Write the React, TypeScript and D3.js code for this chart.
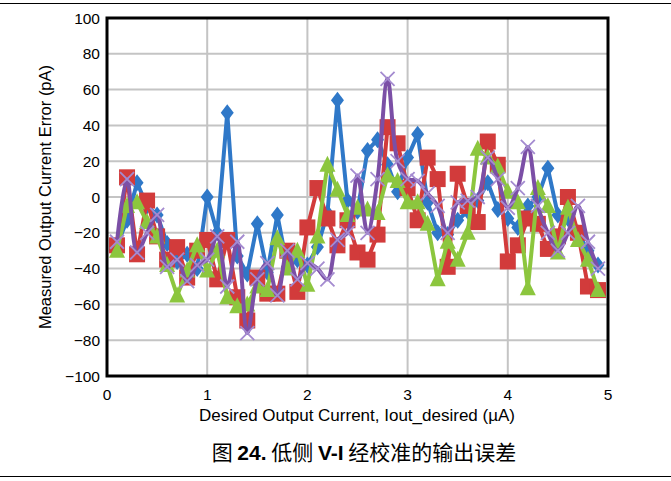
import React from "react";
import * as d3 from "d3";

const xs = [0.1,0.2,0.3,0.4,0.5,0.6,0.7,0.8,0.9,1.0,1.1,1.2,1.3,1.4,1.5,1.6,1.7,1.8,1.9,2.0,2.1,2.2,2.3,2.4,2.5,2.6,2.7,2.8,2.9,3.0,3.1,3.2,3.3,3.4,3.5,3.6,3.7,3.8,3.9,4.0,4.1,4.2,4.3,4.4,4.5,4.6,4.7,4.8,4.9];

const blue = [-27,-13,8,-5,-10,-26,-36,-32,-40,0,-20,47,-33,-43,-15,-42,-10,-39,-35,-38,-28,-9,54,-2,-8,26,32,18,3,22,35,-3,-20,-21,-13,-8,-2,8,-7,-12,-17,-5,0,16,-10,-12,-20,-30,-38];
const red = [-27,11,-32,-2,-22,-35,-28,-45,-30,-24,-46,-24,-56,-69,-45,-54,-54,-30,-53,-17,5,-12,-27,-13,-31,-35,-21,39,30,5,-13,22,10,-39,13,-5,-14,31,18,-36,-27,-12,-15,-29,-22,0,-20,-50,-52];
const green = [-30,-5,-3,-14,-22,-38,-55,-41,-27,-41,-30,-56,-61,-60,-50,-52,-23,-40,-30,-49,-22,18,4,-10,-6,-7,-9,12,9,-3,-3,-15,-46,-25,-35,-20,27,22,17,3,-3,-51,5,-5,-31,-6,-24,-35,-52];
const purple = [-25,10,-31,-20,-10,-39,-35,-47,-38,-35,-22,-50,-25,-76,-46,-37,-55,-30,-46,-37,-40,-46,-24,-20,12,-20,10,66,20,10,9,2,-5,-20,-3,-2,0,22,10,-6,5,28,-5,-20,-30,-20,-5,-25,-40];

const yTicks = [100,80,60,40,20,0,-20,-40,-60,-80,-100];
const xTicks = [0,1,2,3,4,5];

const W = 671, H = 481;
const L = 107, R = 608, T = 18, B = 376;

export default function App() {
  const x = d3.scaleLinear().domain([0, 5]).range([L, R]);
  const y = d3.scaleLinear().domain([-100, 100]).range([B, T]);
  const line = d3.line<number>().x((_, i) => x(xs[i])).y((d) => y(d));
  const smooth = d3.line<number>().x((_, i) => x(xs[i])).y((d) => y(d)).curve(d3.curveCatmullRom.alpha(0.5));

  const cBlue = "#2F78C8", cRed = "#D23B3B", cGreen = "#8CC63E", cPurple = "#7B4FA6", cX = "#A48BD0";
  const font = "'Liberation Sans', Arial, sans-serif";
  const cjk = "'Noto Sans CJK SC', sans-serif";
  const fmt = (v: number) => (v < 0 ? "\u2212" + Math.abs(v) : String(v));

  return (
    <svg width={W} height={H} style={{ position: "absolute", left: 0, top: 0, background: "#fff" }}>
      <rect x={0} y={0} width={W} height={H} fill="#fff" />
      <line x1={0} x2={W} y1={3.5} y2={3.5} stroke="#000" strokeWidth={1.2} />
      <line x1={0} x2={W} y1={476.5} y2={476.5} stroke="#000" strokeWidth={1.2} />
      <defs>
        <clipPath id="plot">
          <rect x={L} y={T} width={R - L} height={B - T} />
        </clipPath>
      </defs>
      {yTicks.map((t) => (
        <line key={"gy" + t} x1={L} x2={R} y1={y(t)} y2={y(t)} stroke="#c4c4c4" strokeWidth={2} />
      ))}
      {xTicks.map((t) => (
        <line key={"gx" + t} x1={x(t)} x2={x(t)} y1={T} y2={B} stroke="#c4c4c4" strokeWidth={2} />
      ))}
      <g clipPath="url(#plot)">
        <path d={line(blue) || ""} fill="none" stroke={cBlue} strokeWidth={4} strokeLinejoin="round" />
        {blue.map((v, i) => (
          <path key={"b" + i} d="M0,-8.5L6.5,0L0,8.5L-6.5,0Z" transform={`translate(${x(xs[i])},${y(v)})`} fill={cBlue} />
        ))}
        <path d={line(red) || ""} fill="none" stroke={cRed} strokeWidth={4} strokeLinejoin="round" />
        {red.map((v, i) => (
          <rect key={"r" + i} x={x(xs[i]) - 8} y={y(v) - 8} width={16} height={16} fill={cRed} />
        ))}
        <path d={line(green) || ""} fill="none" stroke={cGreen} strokeWidth={4} strokeLinejoin="round" />
        {green.map((v, i) => (
          <path key={"g" + i} d="M0,-9L8,7L-8,7Z" transform={`translate(${x(xs[i])},${y(v)})`} fill={cGreen} />
        ))}
        <path d={smooth(purple) || ""} fill="none" stroke={cPurple} strokeWidth={4} />
        {purple.map((v, i) => (
          <path key={"p" + i} d="M-7,-7L7,7M-7,7L7,-7" transform={`translate(${x(xs[i])},${y(v)})`} stroke={cX} strokeWidth={1.8} />
        ))}
      </g>
      <rect x={L} y={T} width={R - L} height={B - T} fill="none" stroke="#000" strokeWidth={3} />
      {yTicks.map((t) => (
        <text key={"ly" + t} x={L - 7} y={y(t) + 5.5} textAnchor="end" fontFamily={font} fontSize={15.5} fill="#000">
          {fmt(t)}
        </text>
      ))}
      {xTicks.map((t) => (
        <text key={"lx" + t} x={x(t)} y={400} textAnchor="middle" fontFamily={font} fontSize={15.5} fill="#000">
          {t}
        </text>
      ))}
      <text x={357} y={421} textAnchor="middle" fontFamily={font} fontSize={17} fill="#000">
        Desired Output Current, Iout_desired (µA)
      </text>
      <text transform={`translate(51,${(T + B) / 2}) rotate(-90)`} textAnchor="middle" fontFamily={font} fontSize={16.5} fill="#000">
        Measured Output Current Error (pA)
      </text>
      <text x={364} y={460} textAnchor="middle" fontFamily={font} fontSize={21} fill="#000">
        <tspan fontFamily={cjk}>图 </tspan>
        <tspan fontWeight="bold">24.</tspan>
        <tspan fontFamily={cjk}> 低侧 </tspan>
        <tspan fontWeight="bold">V-I</tspan>
        <tspan fontFamily={cjk}> 经校准的输出误差</tspan>
      </text>
    </svg>
  );
}
